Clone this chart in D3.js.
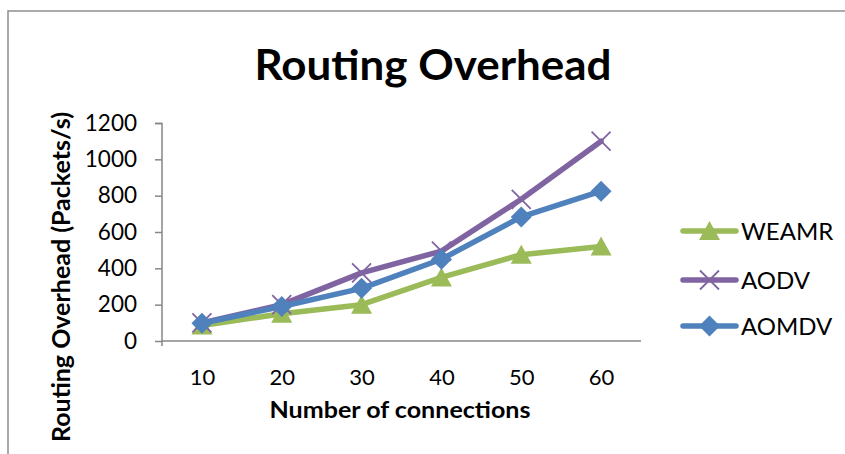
<!DOCTYPE html>
<html>
<head>
<meta charset="utf-8">
<script src="https://cdn.jsdelivr.net/npm/d3@7"></script>
<style>
  html, body { margin: 0; padding: 0; background: #fff; }
  svg { display: block; }
  text { font-family: Lato, "Open Sans", sans-serif; fill: #000; }
</style>
</head>
<body>
<svg id="chart" width="845" height="454"></svg>
<script>
// Routing overhead vs. number of connections for three routing protocols
const connections = [10, 20, 30, 40, 50, 60];
const weamr = [85, 150, 200, 350, 475, 520];
const aodv  = [100, 200, 375, 495, 780, 1100];
const aomdv = [98, 190, 290, 450, 683, 825];
const yTicks = [0, 200, 400, 600, 800, 1000, 1200];

const series = [
  { name: "WEAMR", values: weamr, color: "#9BBB59", marker: "triangle" },
  { name: "AODV",  values: aodv,  color: "#8064A2", marker: "cross" },
  { name: "AOMDV", values: aomdv, color: "#4F81BD", marker: "diamond" }
];

const svg = d3.select("#chart");
const axisColor = "#878787";

// outer frame of the chart area (open at the right and bottom)
svg.append("rect")
  .attr("x", 8).attr("y", 11)
  .attr("width", 860).attr("height", 460)
  .attr("fill", "none").attr("stroke", "#8f8f8f").attr("stroke-width", 1.5);

const x = d3.scalePoint().domain(connections).range([162, 641]).padding(0.5);
const y = d3.scaleLinear().domain([0, 1200]).range([341, 123]);

// title
svg.append("text")
  .attr("x", 433).attr("y", 80)
  .attr("text-anchor", "middle")
  .attr("font-size", 42).attr("font-weight", 700)
  .attr("textLength", 357).attr("lengthAdjust", "spacingAndGlyphs")
  .text("Routing Overhead");

// y axis
const yAxis = svg.append("g")
  .attr("transform", "translate(162,0)")
  .call(d3.axisLeft(y).tickValues(yTicks).tickSize(7).tickPadding(18).tickFormat(d3.format("d")));
yAxis.select(".domain").attr("stroke", axisColor).attr("stroke-width", 1.5).attr("d", "M-7,123.5H0V346");
yAxis.selectAll(".tick line").attr("stroke", axisColor).attr("stroke-width", 1.5);
yAxis.selectAll(".tick text").attr("font-size", 22.5).attr("font-family", "Lato, sans-serif").attr("fill", "#000");

// x axis
const xAxis = svg.append("g")
  .attr("transform", "translate(0,341)")
  .call(d3.axisBottom(x).tickSize(0).tickPadding(28));
xAxis.select(".domain").attr("stroke", axisColor).attr("stroke-width", 1.5).attr("d", "M162,0H641");
xAxis.selectAll(".tick text").attr("font-size", 22).attr("font-family", "Lato, sans-serif").attr("fill", "#000");

// axis titles
svg.append("text")
  .attr("x", 400).attr("y", 418)
  .attr("text-anchor", "middle")
  .attr("font-size", 22.5).attr("font-weight", 700)
  .attr("textLength", 261).attr("lengthAdjust", "spacingAndGlyphs")
  .text("Number of connections");

svg.append("text")
  .attr("transform", "translate(70,277) rotate(-90)")
  .attr("text-anchor", "middle")
  .attr("font-size", 24).attr("font-weight", 700)
  .attr("textLength", 330).attr("lengthAdjust", "spacingAndGlyphs")
  .text("Routing Overhead (Packets/s)");

// marker drawing
function drawMarker(g, type, cx, cy, color) {
  if (type === "triangle") {
    g.append("path")
      .attr("d", `M${cx},${cy - 10}L${cx + 10.5},${cy + 9}L${cx - 10.5},${cy + 9}Z`)
      .attr("fill", color);
  } else if (type === "diamond") {
    g.append("path")
      .attr("d", `M${cx},${cy - 10.5}L${cx + 10.5},${cy}L${cx},${cy + 10.5}L${cx - 10.5},${cy}Z`)
      .attr("fill", color);
  } else {
    g.append("path")
      .attr("d", `M${cx - 9.5},${cy - 9.5}L${cx + 9.5},${cy + 9.5}M${cx + 9.5},${cy - 9.5}L${cx - 9.5},${cy + 9.5}`)
      .attr("stroke", color).attr("stroke-width", 1.8).attr("fill", "none");
  }
}

const line = d3.line().x((d, i) => x(connections[i])).y(d => y(d));

series.forEach(s => {
  const g = svg.append("g");
  g.append("path")
    .attr("d", line(s.values))
    .attr("fill", "none")
    .attr("stroke", s.color)
    .attr("stroke-width", 5.5)
    .attr("stroke-linejoin", "round")
    .attr("stroke-linecap", "round");
  s.values.forEach((v, i) => drawMarker(g, s.marker, x(connections[i]), y(v), s.color));
});

// legend
const legendY = [231, 280, 326];
series.forEach((s, i) => {
  const g = svg.append("g");
  const ly = legendY[i];
  g.append("line")
    .attr("x1", 683).attr("x2", 736).attr("y1", ly).attr("y2", ly)
    .attr("stroke", s.color).attr("stroke-width", 5.5).attr("stroke-linecap", "round");
  drawMarker(g, s.marker, 709.5, ly, s.color);
  g.append("text")
    .attr("x", 741).attr("y", ly + 9)
    .attr("font-size", 24)
    .text(s.name);
});
</script>
</body>
</html>
